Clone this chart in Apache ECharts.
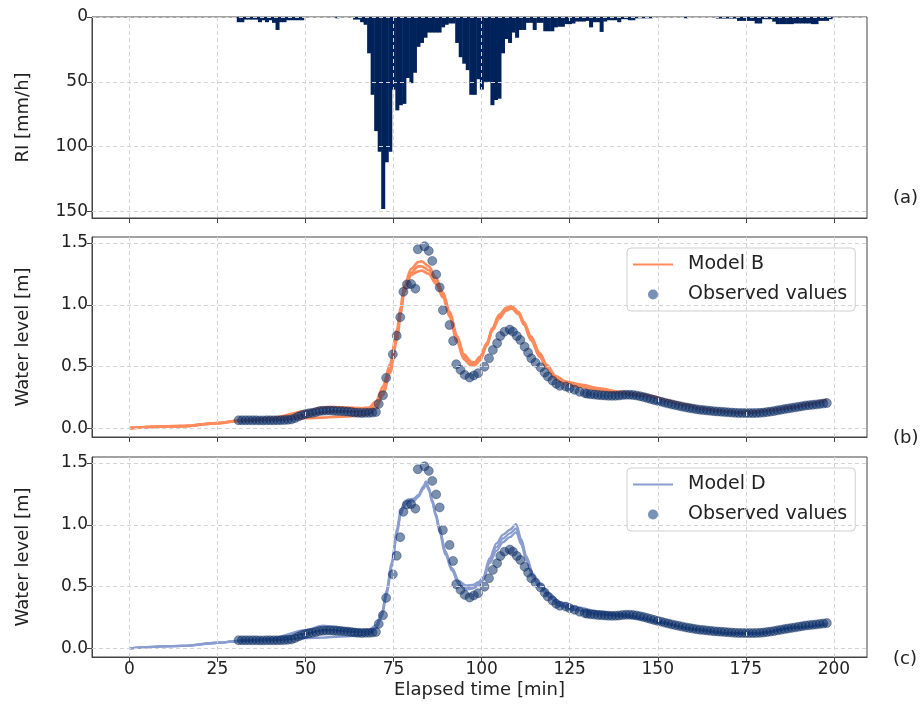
<!DOCTYPE html>
<html>
<head>
    <meta charset="utf-8">
    <title>Rainfall and water level</title>
    <script src="https://cdn.jsdelivr.net/npm/echarts@6/dist/echarts.min.js"></script>
    <style>
        html, body { margin: 0; padding: 0; background: #fff; }
        #main { width: 921px; height: 707px; }
    </style>
</head>
<body>
<div id="main"></div>
<script type="text/javascript">
    // rainfall intensity, one bar per minute from 31 to 199 min
    var rainStart = 31;
    var rainRate = [
        4, 4, 2, 2, 2, 2, 4, 2.5, 4, 2.5, 4.5, 10, 4, 4, 2.5, 2.5, 2.5, 2.5, 2.5,
        0, 0, 0, 0, 0, 0, 0, 0, 0, 1, 0, 0, 0, 0,
        2, 2, 4, 6, 28, 60, 88, 104, 148, 112, 104, 56, 72, 68, 67, 47, 51, 43, 23, 20,
        16, 12, 12, 12, 12, 8, 6, 5, 5, 20, 31, 36, 41, 60, 60, 48,
        56, 50, 50, 68, 64, 63, 28, 17, 20, 12, 16, 10, 10, 4.5, 4.5, 10, 4.5, 4.5, 11, 11,
        11, 8, 7.5, 7.5, 5.5, 5.5, 5, 3.5, 3.5, 3.5, 3, 8, 4, 4, 11.5, 3.5, 2.5, 2.5, 2.5, 4,
        1.7, 1.7, 2.5, 2.5, 1, 1, 1, 1, 1, 0,
        0, 0, 0, 0, 0, 0, 0, 0, 1, 0, 0, 0, 0, 0, 0, 0, 0,
        1.2, 1.2, 1.2, 1.2, 1.2, 1.2, 3, 3, 3, 3, 3, 5, 5, 1.7, 1.7, 1.7, 3.6,
        5.5, 5.5, 5.5, 5.5, 5.5, 5, 5, 5, 5, 5, 5.5, 5.5, 3, 3, 3, 1.7
    ];

    // observed water level
    var obsTime = [
        31, 32, 33, 34, 35, 36, 37, 38, 39, 40, 41, 42, 43, 44, 45, 46, 47, 48, 49, 50,
        51, 52, 53, 54, 55, 56, 57, 58, 59, 60, 61, 62, 63, 64, 65, 66, 67, 68, 69, 70,
        70.8, 72, 72.9, 74.8, 75.9, 76.9, 77.8, 78.8, 80, 81.2, 81.9, 83.8, 85, 86, 87.1,
        88.1, 89, 90.9, 91.9, 92.8, 94, 95.2, 96.6, 97.8, 99, 100.8, 102.1, 103.2, 104.4, 105.3,
        106.5, 108, 108.9, 110, 111, 112.2, 113.2, 114.1, 115.3, 116.7, 117.9, 118.8, 120.1, 121.2, 122.2,
        123.9, 125, 126.4, 127.8, 129.3,
        130, 131, 132, 133, 134, 135, 136, 137, 138, 139, 140, 141, 142, 143, 144, 145, 146, 147, 148, 149,
        150, 151, 152, 153, 154, 155, 156, 157, 158, 159, 160, 161, 162, 163, 164, 165, 166, 167, 168, 169,
        170, 171, 172, 173, 174, 175, 176, 177, 178, 179, 180, 181, 182, 183, 184, 185, 186, 187, 188, 189,
        190, 191, 192, 193, 194, 195, 196, 197, 198
    ];
    var obsLevel = [
        0.068, 0.068, 0.068, 0.068, 0.068, 0.068, 0.067, 0.067, 0.068, 0.068, 0.068, 0.068, 0.069, 0.070, 0.072, 0.075, 0.085, 0.098, 0.110, 0.118,
        0.125, 0.128, 0.135, 0.142, 0.145, 0.146, 0.147, 0.145, 0.143, 0.142, 0.140, 0.138, 0.135, 0.130, 0.128, 0.127, 0.128, 0.128, 0.130, 0.135,
        0.20, 0.27, 0.41, 0.60, 0.75, 0.90, 1.105, 1.164, 1.167, 1.13, 1.448, 1.472, 1.435, 1.354, 1.245,
        1.14, 0.957, 0.837, 0.708, 0.52, 0.475, 0.434, 0.413, 0.43, 0.448, 0.50, 0.568, 0.636, 0.69, 0.748,
        0.783, 0.80, 0.783, 0.748, 0.716, 0.662, 0.614, 0.568, 0.533, 0.496, 0.453, 0.421, 0.389, 0.362, 0.346,
        0.34, 0.327, 0.314, 0.298, 0.287,
        0.282, 0.278, 0.275, 0.272, 0.270, 0.268, 0.266, 0.265, 0.266, 0.268, 0.272, 0.274, 0.274, 0.272, 0.268, 0.262, 0.255, 0.248, 0.240, 0.232,
        0.224, 0.218, 0.210, 0.203, 0.196, 0.190, 0.184, 0.178, 0.172, 0.167, 0.162, 0.157, 0.153, 0.150, 0.147, 0.144, 0.141, 0.139, 0.137, 0.135,
        0.132, 0.130, 0.128, 0.127, 0.127, 0.126, 0.126, 0.126, 0.127, 0.128, 0.130, 0.134, 0.138, 0.142, 0.148, 0.153, 0.158, 0.163, 0.168, 0.172,
        0.177, 0.182, 0.187, 0.190, 0.193, 0.196, 0.200, 0.203, 0.207
    ];

    // model B runs
    var tB = [0, 15, 25, 31, 40, 50, 55, 58, 62, 66, 68, 70, 72, 74, 76, 77, 78, 80, 82, 83,
        85, 87, 89, 91, 93, 95, 97, 98, 99.5, 101.5, 103, 105, 107, 108.5, 110.5, 112, 114, 116.5, 118.5, 121,
        124, 128, 133.5, 139, 145, 148.7, 152.5, 158, 162, 167.6, 172.3, 177, 183, 188.4, 193, 198];
    var modelB1 = [0.005, 0.02, 0.045, 0.065, 0.085, 0.14, 0.17, 0.175, 0.17, 0.165, 0.17, 0.22, 0.34, 0.52, 0.80, 0.98, 1.15, 1.29, 1.345, 1.35,
        1.31, 1.22, 1.10, 0.94, 0.75, 0.60, 0.54, 0.535, 0.58, 0.69, 0.81, 0.92, 0.975, 0.99, 0.94, 0.86, 0.745, 0.61, 0.515, 0.425,
        0.38, 0.355, 0.325, 0.30, 0.28, 0.262, 0.228, 0.195, 0.168, 0.147, 0.134, 0.136, 0.155, 0.176, 0.202, 0.236];
    var modelB2 = [0.005, 0.02, 0.045, 0.063, 0.075, 0.11, 0.13, 0.14, 0.14, 0.14, 0.15, 0.19, 0.30, 0.48, 0.76, 0.95, 1.12, 1.26, 1.31, 1.31,
        1.28, 1.19, 1.08, 0.92, 0.72, 0.58, 0.525, 0.52, 0.565, 0.68, 0.80, 0.90, 0.965, 0.98, 0.935, 0.85, 0.73, 0.595, 0.50, 0.41,
        0.37, 0.347, 0.318, 0.294, 0.274, 0.258, 0.225, 0.192, 0.165, 0.145, 0.132, 0.134, 0.153, 0.174, 0.20, 0.233];
    var modelB3 = [0.005, 0.02, 0.045, 0.062, 0.07, 0.085, 0.09, 0.095, 0.10, 0.11, 0.12, 0.16, 0.27, 0.45, 0.72, 0.92, 1.10, 1.24, 1.27, 1.275,
        1.25, 1.17, 1.06, 0.90, 0.70, 0.56, 0.51, 0.51, 0.55, 0.67, 0.79, 0.89, 0.955, 0.97, 0.925, 0.84, 0.715, 0.58, 0.488, 0.40,
        0.36, 0.34, 0.31, 0.287, 0.268, 0.255, 0.222, 0.19, 0.163, 0.143, 0.13, 0.132, 0.151, 0.172, 0.198, 0.23];

    // model D runs
    var tD = [0, 15, 25, 31, 40, 50, 55, 58, 62, 66, 68, 70, 71.7, 73, 74.5, 76, 77, 78, 79.2, 80.7,
        82, 83.5, 84.2, 85, 86, 87, 88, 89.7, 91.6, 93.5, 95.5, 97.5, 99.2, 100.4, 102.3, 104.2, 106.1, 108, 109.8, 111.3,
        112.7, 114.6, 116.5, 119.3, 122.2, 126.9, 133.5, 139.2, 146.8, 150.6, 160, 169.5, 179, 188.4, 198];
    var modelD1 = [0.003, 0.022, 0.048, 0.062, 0.08, 0.15, 0.185, 0.18, 0.16, 0.15, 0.15, 0.19, 0.29, 0.47, 0.70, 0.97, 1.11, 1.175, 1.205, 1.21,
        1.24, 1.31, 1.35, 1.30, 1.20, 1.09, 0.98, 0.79, 0.65, 0.55, 0.51, 0.515, 0.54, 0.575, 0.73, 0.85, 0.92, 0.96, 1.005, 0.88,
        0.745, 0.605, 0.525, 0.445, 0.375, 0.335, 0.30, 0.28, 0.24, 0.212, 0.158, 0.125, 0.126, 0.171, 0.199];
    var modelD2 = [0.003, 0.022, 0.048, 0.062, 0.075, 0.12, 0.15, 0.15, 0.14, 0.135, 0.14, 0.17, 0.28, 0.45, 0.68, 0.95, 1.10, 1.165, 1.20, 1.20,
        1.235, 1.30, 1.34, 1.29, 1.19, 1.08, 0.965, 0.775, 0.64, 0.535, 0.49, 0.50, 0.525, 0.56, 0.71, 0.82, 0.89, 0.93, 0.97, 0.86,
        0.725, 0.59, 0.51, 0.43, 0.36, 0.322, 0.29, 0.272, 0.238, 0.21, 0.157, 0.124, 0.125, 0.17, 0.197];
    var modelD3 = [0.003, 0.022, 0.048, 0.062, 0.07, 0.085, 0.09, 0.095, 0.10, 0.11, 0.12, 0.16, 0.26, 0.43, 0.66, 0.93, 1.08, 1.15, 1.19, 1.19,
        1.225, 1.29, 1.33, 1.28, 1.18, 1.07, 0.95, 0.76, 0.63, 0.52, 0.475, 0.485, 0.51, 0.55, 0.69, 0.79, 0.86, 0.90, 0.94, 0.84,
        0.71, 0.575, 0.495, 0.415, 0.346, 0.311, 0.28, 0.265, 0.236, 0.208, 0.156, 0.123, 0.124, 0.169, 0.195];

    var xTicks = [0, 25, 50, 75, 100, 125, 150, 175, 200];
    var rainTicks = [0, 50, 100, 150];
    var levelTicks = [0, 0.5, 1.0, 1.5];

    var FONT = 'DejaVu Sans';
    var colorB = '#ff8b5c';
    var colorD = '#8a9dd0';
    var colorBar = '#00225a';

    function pairs(xs, ys) {
        return xs.map(function (x, i) { return [x, ys[i]]; });
    }

    var rainData = rainRate.map(function (v, i) { return [rainStart + i, v]; });
    var obsData = pairs(obsTime, obsLevel);

    function makeGrid(top, height) {
        return {left: 92, top: top, width: 775, height: height, show: true,
            borderColor: '#444', borderWidth: 1, backgroundColor: 'transparent'};
    }

    function makeX(gi, showLabel, name) {
        return {
            type: 'value', gridIndex: gi, min: -10.6, max: 209.4,
            axisLine: {show: true, onZero: false, lineStyle: {color: '#444', width: 1}},
            splitLine: {show: false},
            axisTick: {show: true, length: 5, lineStyle: {color: '#444'}, customValues: xTicks},
            axisLabel: {show: showLabel, customValues: xTicks, fontSize: 17, color: '#222', margin: 4, fontFamily: FONT},
            name: name, nameLocation: 'middle', nameGap: 24,
            nameTextStyle: {fontSize: 18, color: '#222', fontFamily: FONT}
        };
    }

    function makeY(gi, min, max, ticks, inverse, name, fmt) {
        return {
            type: 'value', gridIndex: gi, min: min, max: max, inverse: inverse,
            axisLine: {show: true, onZero: false, lineStyle: {color: '#444', width: 1}},
            splitLine: {show: false},
            axisTick: {show: true, length: 5, lineStyle: {color: '#444'}, customValues: ticks},
            axisLabel: {customValues: ticks, fontSize: 17, color: '#222', margin: 4, fontFamily: FONT, formatter: fmt},
            name: name, nameLocation: 'middle', nameGap: 60, nameRotate: 90,
            nameTextStyle: {fontSize: 18, color: '#222', fontFamily: FONT}
        };
    }

    // dashed grid drawn above the bars, below the curves
    function gridLines(gi, yTicks) {
        var lines = xTicks.map(function (v) { return {xAxis: v}; })
            .concat(yTicks.map(function (v) { return {yAxis: v}; }));
        return {
            type: 'line', xAxisIndex: gi, yAxisIndex: gi, data: [], z: 2, silent: true,
            markLine: {
                symbol: 'none', silent: true, animation: false, label: {show: false},
                lineStyle: {color: '#d4d4d4', type: [4, 3], width: 1},
                emphasis: {disabled: true},
                data: lines
            }
        };
    }

    function modelLine(name, gi, xs, ys, color, width) {
        return {
            type: 'line', name: name, xAxisIndex: gi, yAxisIndex: gi,
            data: pairs(xs, ys), symbol: 'none', smooth: 0.3, smoothMonotone: 'x',
            lineStyle: {color: color, width: width}, itemStyle: {color: color}, z: 3
        };
    }

    function observed(gi) {
        return {
            type: 'scatter', name: 'Observed values', xAxisIndex: gi, yAxisIndex: gi,
            data: obsData, symbolSize: 9,
            itemStyle: {color: 'rgba(12, 48, 108, 0.68)', borderColor: 'rgba(0, 28, 75, 0.55)', borderWidth: 0.8},
            z: 4
        };
    }

    function makeLegend(top, modelName, color) {
        return {
            left: 627, top: top, orient: 'vertical', selectedMode: false,
            data: [
                {name: modelName, icon: 'path://M0,0 L40,0 L40,2.2 L0,2.2 Z', itemStyle: {color: color}},
                {name: 'Observed values', icon: 'circle',
                    itemStyle: {color: 'rgba(40, 78, 138, 0.78)', borderWidth: 0}}
            ],
            itemWidth: 40, itemHeight: 10, itemGap: 11, padding: [7, 8, 7, 6],
            backgroundColor: 'rgba(255,255,255,0.85)', borderColor: '#d0d0d0', borderWidth: 1, borderRadius: 4,
            textStyle: {fontSize: 19, color: '#222', fontFamily: FONT, padding: [0, 0, 0, 10]}
        };
    }

    var fmtLevel = function (v) { return v.toFixed(1); };

    var myChart = echarts.init(document.getElementById('main'));

    var option = {
        animation: false,
        backgroundColor: '#fff',
        grid: [makeGrid(17, 201), makeGrid(237, 200), makeGrid(457, 200)],
        xAxis: [makeX(0, false, ''), makeX(1, false, ''), makeX(2, true, 'Elapsed time [min]')],
        yAxis: [
            makeY(0, 0, 155, rainTicks, true, 'RI [mm/h]'),
            makeY(1, -0.067, 1.547, levelTicks, false, 'Water level [m]', fmtLevel),
            makeY(2, -0.067, 1.547, levelTicks, false, 'Water level [m]', fmtLevel)
        ],
        legend: [makeLegend(248, 'Model B', colorB), makeLegend(468, 'Model D', colorD)],
        graphic: [
            {type: 'text', left: 893, top: 189, style: {text: '(a)', font: '18px "DejaVu Sans"', fill: '#222'}},
            {type: 'text', left: 893, top: 429, style: {text: '(b)', font: '18px "DejaVu Sans"', fill: '#222'}},
            {type: 'text', left: 893, top: 650, style: {text: '(c)', font: '18px "DejaVu Sans"', fill: '#222'}}
        ],
        series: [
            {
                // one-minute rainfall bars, hanging from the top of panel (a)
                type: 'custom', name: 'RI', xAxisIndex: 0, yAxisIndex: 0, data: rainData,
                encode: {x: 0, y: 1}, clip: true, z: 1,
                renderItem: function (params, api) {
                    var t = api.value(0), v = api.value(1);
                    if (!v) return null;
                    var p0 = api.coord([t - 0.5, 0]);
                    var p1 = api.coord([t + 0.5, v]);
                    return {
                        type: 'rect',
                        shape: {x: p0[0], y: p0[1], width: p1[0] - p0[0] + 0.5, height: p1[1] - p0[1]},
                        style: {fill: colorBar}
                    };
                }
            },
            gridLines(0, rainTicks),
            gridLines(1, levelTicks),
            gridLines(2, levelTicks),
            modelLine('Model B', 1, tB, modelB1, colorB, 2.7),
            modelLine('Model B', 1, tB, modelB2, colorB, 2.7),
            modelLine('Model B', 1, tB, modelB3, colorB, 2.7),
            observed(1),
            modelLine('Model D', 2, tD, modelD1, colorD, 2.3),
            modelLine('Model D', 2, tD, modelD2, colorD, 2.3),
            modelLine('Model D', 2, tD, modelD3, colorD, 2.3),
            observed(2)
        ]
    };

    myChart.setOption(option);
</script>
</body>
</html>
